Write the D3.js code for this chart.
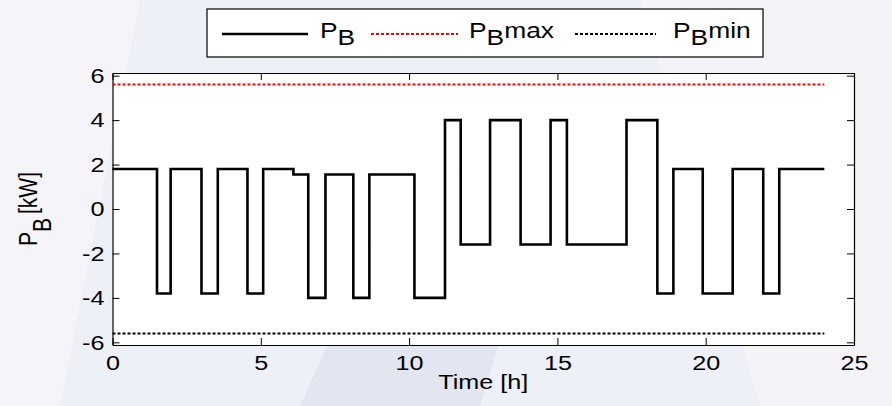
<!DOCTYPE html>
<html>
<head>
<meta charset="utf-8">
<script src="https://cdn.jsdelivr.net/npm/d3@7"></script>
<style>
  html, body { margin: 0; padding: 0; background: #eef0f7; }
  svg { display: block; font-family: "Liberation Sans", Arial, sans-serif; }
</style>
</head>
<body>
<svg id="chart" width="892" height="406"></svg>
<script>
// ---- data ----
const stepTimes  = [0, 1.5, 1.96, 3.0, 3.55, 4.55, 5.08, 6.1, 6.6, 7.18, 8.12, 8.66, 10.18, 11.21, 11.74, 12.73, 13.76, 14.77, 15.32, 17.33, 18.37, 18.91, 19.9, 20.91, 21.94, 22.48, 24];
const stepValues = [1.8, -3.8, 1.8, -3.8, 1.8, -3.8, 1.8, 1.55, -4, 1.55, -4, 1.55, -4, 4, -1.6, 4, -1.6, 4, -1.6, 4, -3.8, 1.8, -3.8, 1.8, -3.8, 1.8, 1.8];
const pbMax = 5.6;
const pbMin = -5.6;
const limitSpan = [0, 24];
const xTicks = [0, 5, 10, 15, 20, 25];
const yTicks = [-6, -4, -2, 0, 2, 4, 6];
const legendLabels = [
  {base: "P", sub: "B", rest: ""},
  {base: "P", sub: "B", rest: "max"},
  {base: "P", sub: "B", rest: "min"}
];

const FONT = "'Liberation Sans', Arial, sans-serif";
const fs = 21;      // font size
const sx = 1.2;     // horizontal stretch seen in the reference

const svg = d3.select("#chart");

// background decoration (light watermark-like bands)
const bg = svg.append("g");
bg.append("rect").attr("width", 892).attr("height", 406).attr("fill", "#eef0f7");
bg.append("path").attr("d", "M0,0 L140,0 L60,406 L0,406 Z").attr("fill", "#f4f4f9");
bg.append("path").attr("d", "M300,406 L420,140 L560,140 L480,406 Z").attr("fill", "#dfe3ef").attr("opacity", 0.8);
bg.append("path").attr("d", "M640,0 L892,0 L892,406 L760,406 Z").attr("fill", "#f3f3f8");

const x = d3.scaleLinear().domain([0, 25]).range([112.5, 854]);
const y = d3.scaleLinear().domain([-6.12, 6.12]).range([345, 73]);

// plot area
svg.append("rect")
  .attr("x", x(0)).attr("y", y(6.12))
  .attr("width", x(25) - x(0)).attr("height", y(-6.12) - y(6.12))
  .attr("fill", "#ffffff");

// axes
const tickLen = 7;
const fmt = d => String(d);
const gx = svg.append("g").attr("transform", `translate(0,${y(-6.12)})`)
  .call(d3.axisBottom(x).tickValues(xTicks).tickFormat(fmt).tickSizeInner(-tickLen).tickSizeOuter(0).tickPadding(10));
const gy = svg.append("g").attr("transform", `translate(${x(0)},0)`)
  .call(d3.axisLeft(y).tickValues(yTicks).tickFormat(fmt).tickSizeInner(-tickLen).tickSizeOuter(0).tickPadding(8));
const gxt = svg.append("g").attr("transform", `translate(0,${y(6.12)})`)
  .call(d3.axisTop(x).tickValues(xTicks).tickSizeInner(-tickLen).tickSizeOuter(0).tickFormat(""));
const gyr = svg.append("g").attr("transform", `translate(${x(25)},0)`)
  .call(d3.axisRight(y).tickValues(yTicks).tickSizeInner(-tickLen).tickSizeOuter(0).tickFormat(""));
[gx, gy, gxt, gyr].forEach(g => {
  g.attr("font-family", FONT).attr("font-size", fs);
  g.select(".domain").attr("stroke", "#000").attr("stroke-width", 1.2);
  g.selectAll(".tick line").attr("stroke", "#000").attr("stroke-width", 1);
  g.selectAll(".tick text").attr("fill", "#000");
});
gx.selectAll(".tick text").attr("transform", `scale(${sx},1)`);
gy.selectAll(".tick text").attr("transform", `scale(${sx},1)`).attr("x", -8 / sx);

// limits
const limitLine = d3.line().x(d => x(d[0])).y(d => y(d[1]));
svg.append("path")
  .attr("d", limitLine(limitSpan.map(t => [t, pbMax])))
  .attr("stroke", "#ff0000").attr("stroke-width", 2).attr("stroke-dasharray", "3,2").attr("fill", "none");
svg.append("path")
  .attr("d", limitLine(limitSpan.map(t => [t, pbMin])))
  .attr("stroke", "#000").attr("stroke-width", 2).attr("stroke-dasharray", "3,2").attr("fill", "none");

// main step line
const stepData = stepTimes.map((t, i) => [t, stepValues[i]]);
svg.append("path")
  .attr("d", d3.line().curve(d3.curveStepAfter).x(d => x(d[0])).y(d => y(d[1]))(stepData))
  .attr("stroke", "#000").attr("stroke-width", 2.6).attr("fill", "none")
  .attr("stroke-linejoin", "miter");

// axis titles
svg.append("text")
  .attr("transform", `translate(${(x(0) + x(25)) / 2},389) scale(${sx},1)`)
  .attr("text-anchor", "middle").attr("font-size", fs).attr("font-family", FONT)
  .text("Time [h]");
const yl = svg.append("text")
  .attr("transform", `translate(37,${y(0)}) scale(${sx},1) rotate(-90)`)
  .attr("text-anchor", "middle").attr("font-size", fs).attr("font-family", FONT);
yl.append("tspan").text("P");
yl.append("tspan").attr("dy", 12).text("B");
yl.append("tspan").attr("dy", -12).attr("dx", 4).text("[kW]");

// legend
const lg = svg.append("g");
lg.append("rect").attr("x", 207).attr("y", 9).attr("width", 556).attr("height", 48)
  .attr("fill", "#fff").attr("stroke", "#000").attr("stroke-width", 1.2);
const legendItems = [
  {x1: 222, x2: 308, tx: 320, color: "#000", dash: null, w: 2.6},
  {x1: 371, x2: 458, tx: 469, color: "#ff0000", dash: "3,2", w: 2},
  {x1: 575, x2: 656, tx: 673, color: "#000", dash: "3,2", w: 2}
];
legendItems.forEach((it, i) => {
  const ly = 34;
  lg.append("line").attr("x1", it.x1).attr("x2", it.x2).attr("y1", ly).attr("y2", ly)
    .attr("stroke", it.color).attr("stroke-width", it.w)
    .attr("stroke-dasharray", it.dash);
  const t = lg.append("text").attr("transform", `translate(${it.tx},38) scale(${sx},1)`)
    .attr("font-size", fs + 1).attr("font-family", FONT);
  t.append("tspan").text(legendLabels[i].base);
  t.append("tspan").attr("dy", 7).text(legendLabels[i].sub);
  if (legendLabels[i].rest) t.append("tspan").attr("dy", -7).text(legendLabels[i].rest);
});
</script>
</body>
</html>
